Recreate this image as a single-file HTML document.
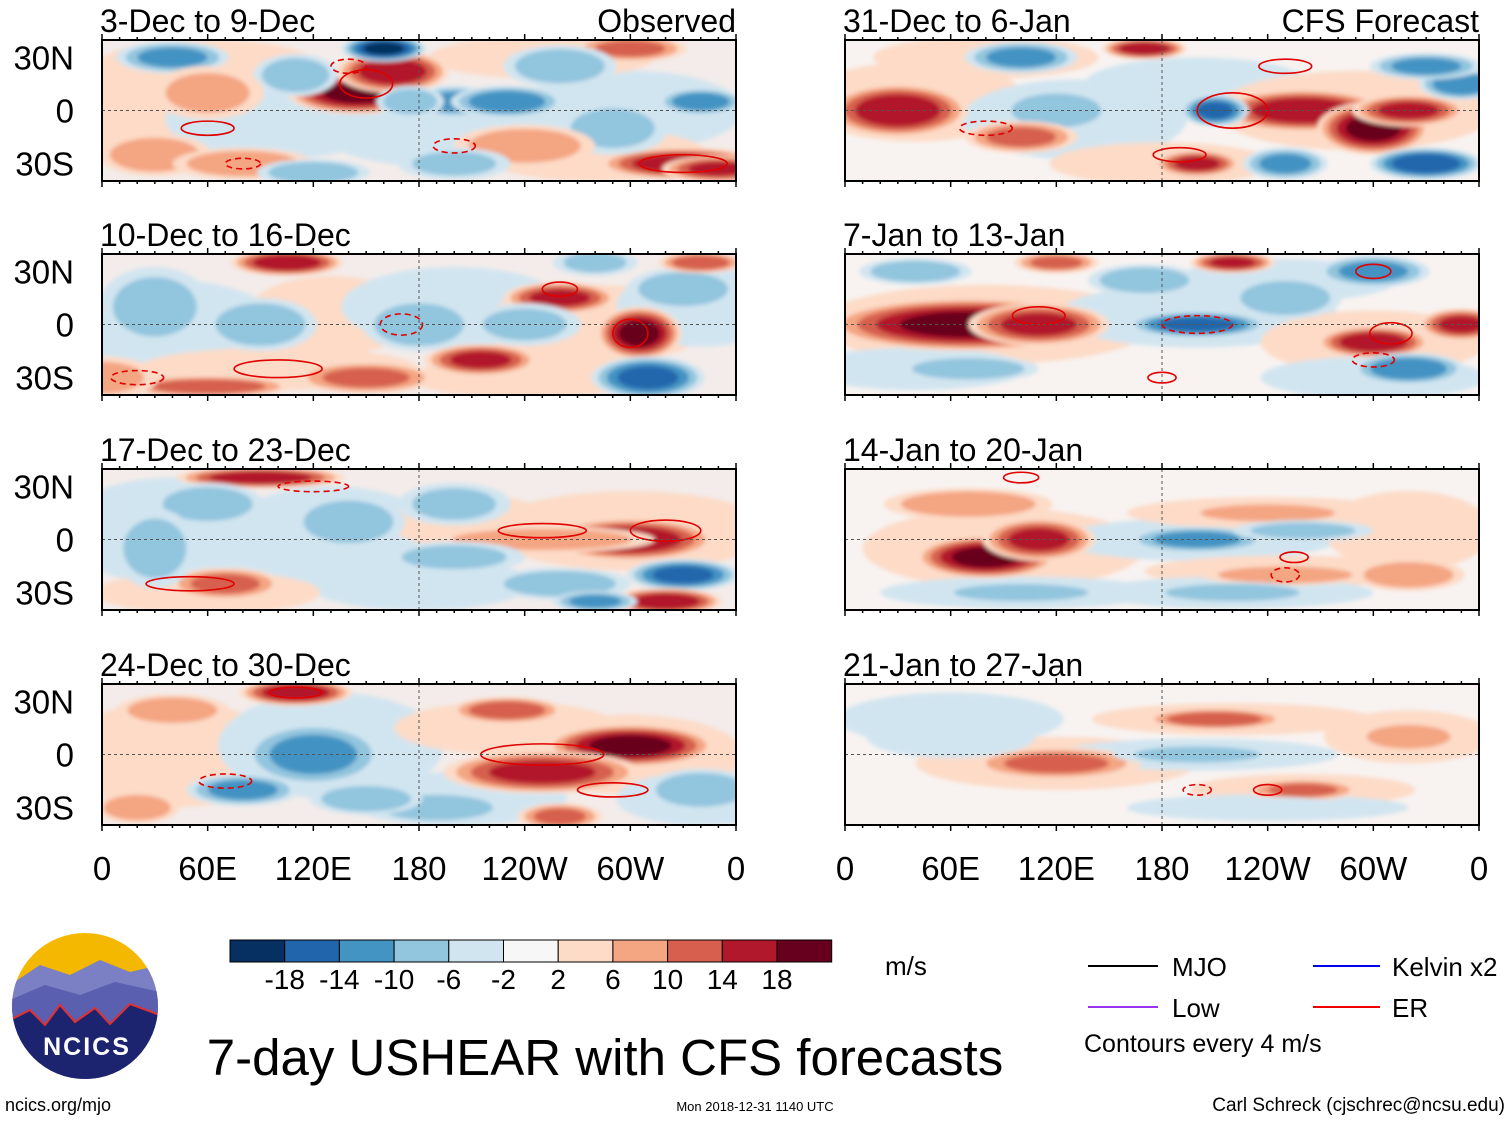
<!DOCTYPE html>
<html><head><meta charset="utf-8"><style>
html,body{margin:0;padding:0;background:#fff}
svg{display:block}
text{font-family:"Liberation Sans",Arial,sans-serif}
</style></head><body>
<svg id="chart" width="1510" height="1121" viewBox="0 0 1510 1121" xmlns="http://www.w3.org/2000/svg">
<defs><filter id="soft"><feGaussianBlur stdDeviation="2"/></filter></defs>
<g id="panels"></g>
<g id="colorbar"></g>
<g>
<clipPath id="lc"><circle cx="85" cy="1006" r="73"/></clipPath>
<g clip-path="url(#lc)">
<rect x="10" y="930" width="150" height="150" fill="#f5b800"/>
<path d="M10 985 L40 965 L70 975 L100 960 L130 972 L160 965 L160 1080 L10 1080Z" fill="#7b7fc4"/>
<path d="M10 1000 L45 985 L80 995 L115 982 L160 992 L160 1080 L10 1080Z" fill="#5a5fb0"/>
<path d="M10 1020 L30 1010 L45 1025 L60 1005 L75 1022 L95 1008 L110 1024 L130 1004 L160 1015 L160 1080 L10 1080Z" fill="#1c2470" stroke="#e03030" stroke-width="2"/>
</g>
<text x="87" y="1055" font-size="25" font-weight="bold" fill="#fff" text-anchor="middle" letter-spacing="2">NCICS</text>
</g>
<text x="5" y="1111" font-size="18">ncics.org/mjo</text>
<text x="755" y="1111" font-size="13" text-anchor="middle">Mon 2018-12-31 1140 UTC</text>
<text x="1505" y="1111" font-size="19" text-anchor="end">Carl Schreck (cjschrec@ncsu.edu)</text>
<text x="605" y="1075" font-size="51" text-anchor="middle">7-day USHEAR with CFS forecasts</text>
<text x="885" y="975" font-size="26">m/s</text>
<g>
<line x1="1088" y1="966" x2="1158" y2="966" stroke="#000" stroke-width="2"/><text x="1172" y="976" font-size="26">MJO</text>
<line x1="1313" y1="966" x2="1380" y2="966" stroke="#0000ee" stroke-width="2"/><text x="1392" y="976" font-size="26">Kelvin x2</text>
<line x1="1088" y1="1007" x2="1158" y2="1007" stroke="#9933ee" stroke-width="2"/><text x="1172" y="1017" font-size="26">Low</text>
<line x1="1313" y1="1007" x2="1380" y2="1007" stroke="#ee0000" stroke-width="2"/><text x="1392" y="1017" font-size="26">ER</text>
<text x="1084" y="1052" font-size="25">Contours every 4 m/s</text>
</g>
</svg>
<script>
const colors=['#053061','#2166ac','#4393c3','#92c5de','#d1e5f0','#f7f7f7','#fddbc7','#f4a582','#d6604d','#b2182b','#67001f'];
const cbLabels=['-18','-14','-10','-6','-2','2','6','10','14','18'];
const lonTicks=['0','60E','120E','180','120W','60W','0'];
const latTicks=['30N','0','30S'];
const latValues=[30,0,-30];
const panelTitles=['3-Dec to 9-Dec','10-Dec to 16-Dec','17-Dec to 23-Dec','24-Dec to 30-Dec','31-Dec to 6-Jan','7-Jan to 13-Jan','14-Jan to 20-Jan','21-Jan to 27-Jan'];
// anomaly centres: [lon E, lat, value m/s, lon radius, lat radius]
const blobs1=[[20,0,4,40,20],[100,-5,-4,40,15],[200,-10,-4,50,15],[300,0,-4,40,15],[60,25,4,40,10],[250,30,4,40,8],[280,-25,4,40,10],
[145,10,18,25,8],[165,22,16,20,8],[160,35,-18,15,5],[200,5,-10,15,6],[175,5,-8,12,6],[230,5,-12,20,6],[330,-30,16,30,6],[350,-33,14,20,5],[290,-10,-6,20,10],[340,5,-12,15,5],[40,30,-10,20,6],[30,-25,8,20,8],[80,-30,8,25,6],[240,-20,8,25,8],[110,20,-8,15,8],[60,10,6,20,10],[300,35,10,20,5],[260,25,-8,20,8],[120,-35,-8,20,5],[200,-30,-6,20,6]];
const blobs2=[[40,-5,-4,40,20],[130,5,4,30,15],[200,10,-4,40,15],[280,0,4,40,15],[340,10,-4,30,15],[100,-25,4,50,8],[240,-30,4,40,8],
[105,35,16,20,5],[260,15,14,20,6],[305,-5,18,15,10],[215,-20,14,20,6],[310,-30,-14,20,8],[180,0,-8,20,10],[90,0,-8,20,10],[30,10,-6,20,15],[240,0,-6,20,8],[150,-30,10,25,6],[60,-35,12,30,4],[330,20,-8,20,8],[340,35,12,15,4],[280,35,-6,15,5],[0,-30,6,20,8]];
const blobs3=[[40,5,-4,40,20],[130,0,-4,40,20],[210,10,4,30,10],[300,5,4,50,15],[180,-25,-4,40,10],[60,-30,4,40,8],
[300,0,16,30,8],[250,0,8,40,5],[330,-20,-14,20,6],[320,-35,16,20,5],[70,-25,10,20,6],[90,35,16,30,4],[60,20,-8,20,8],[140,10,-8,20,10],[200,-10,-6,25,6],[260,-25,-8,25,6],[30,-5,-6,15,15],[200,20,-6,20,8],[280,-35,-10,15,4]];
const blobs4=[[40,0,4,40,20],[130,5,-4,40,20],[230,15,4,40,10],[300,0,4,40,15],[200,-25,-4,40,10],[340,-25,-4,30,10],
[300,5,18,30,8],[250,-10,14,35,8],[110,35,16,20,5],[120,0,-10,25,12],[80,-20,-10,20,6],[230,25,12,20,5],[40,25,8,20,6],[190,-30,-8,25,6],[340,-20,-8,20,8],[150,-25,-8,20,6],[260,-35,10,15,5],[20,-30,8,15,6]];
const blobs5=[[40,5,4,40,15],[130,-5,-4,40,15],[200,15,-4,40,10],[290,0,4,50,15],[80,30,4,40,8],[180,-30,4,40,8],
[30,0,16,25,10],[260,0,16,30,8],[300,-10,18,20,10],[320,0,14,20,6],[200,-30,14,15,5],[330,-30,-16,20,6],[210,0,-14,12,6],[250,-30,-10,15,6],[100,30,-10,20,6],[170,35,16,15,4],[120,0,-8,20,8],[350,15,-12,15,6],[330,25,-10,20,5],[100,-15,10,20,6]];
const blobs6=[[80,0,4,60,15],[200,5,-4,50,12],[300,-10,4,40,12],[40,-25,-4,40,8],[250,25,-4,40,8],[300,-30,-4,40,8],
[70,0,18,50,10],[110,0,14,25,8],[200,0,-14,25,5],[300,-10,16,20,6],[300,30,-10,20,6],[250,15,-8,20,8],[350,0,14,15,6],[70,-25,-8,25,5],[320,-25,-12,20,6],[120,35,10,15,4],[220,35,14,15,4],[40,30,-8,20,5],[170,25,-8,20,6]];
const blobs7=[[90,-5,4,50,15],[200,0,-4,50,8],[240,15,4,50,6],[250,-18,4,50,6],[100,-30,-4,50,6],[220,-30,-4,50,6],[320,5,4,30,15],
[80,-10,18,25,8],[110,0,14,20,8],[200,0,-10,25,5],[70,20,8,30,6],[240,15,8,30,4],[250,-20,8,30,4],[100,-30,-8,30,4],[220,-30,-8,30,4],[320,-20,8,20,6],[260,5,-6,25,4]];
const blobs8=[[120,-5,4,50,10],[220,20,4,50,6],[200,0,-4,50,6],[260,-20,4,40,6],[60,20,-4,40,10],[320,10,4,30,10],[240,-30,-4,50,5],
[120,-5,10,30,6],[210,20,12,25,4],[260,-20,10,20,4],[200,0,-6,30,4],[60,10,-4,30,8],[240,-30,-4,30,4],[320,10,6,20,6]];
// ER contours: [lon, lat, lon radius, lat radius, dashed(1)/solid(0)]
const er1=[[150,15,15,8,0],[60,-10,15,4,0],[330,-30,25,5,0],[200,-20,12,4,1],[80,-30,10,3,1],[140,25,10,4,1]];
const er2=[[100,-25,25,5,0],[170,0,12,6,1],[260,20,10,4,0],[300,-5,10,8,0],[20,-30,15,4,1]];
const er3=[[50,-25,25,4,0],[250,5,25,4,0],[320,5,20,6,0],[120,30,20,3,1]];
const er4=[[250,0,35,6,0],[290,-20,20,4,0],[110,35,15,3,0],[70,-15,15,4,1]];
const er5=[[220,0,20,10,0],[190,-25,15,4,0],[80,-10,15,4,1],[250,25,15,4,0]];
const er6=[[310,-5,12,6,0],[200,0,20,5,1],[110,5,15,5,0],[300,-20,12,4,1],[180,-30,8,3,0],[300,30,10,4,0]];
const er7=[[100,35,10,3,0],[255,-10,8,3,0],[250,-20,8,4,1]];
const er8=[[240,-20,8,3,0],[200,-20,8,3,1]];
const allBlobs=[blobs1,blobs2,blobs3,blobs4,blobs5,blobs6,blobs7,blobs8];
const allEr=[er1,er2,er3,er4,er5,er6,er7,er8];

const NS='http://www.w3.org/2000/svg';
function mk(tag,attrs,parent){const e=document.createElementNS(NS,tag);for(const k in attrs)e.setAttribute(k,attrs[k]);parent.appendChild(e);return e;}
const W=634,H=141,tops=[40,254,469,684],lefts=[102,845];
function colIdx(v){return Math.max(0,Math.min(10,Math.round((v+20)/4)));}
const root=document.getElementById('panels');
for(let p=0;p<8;p++){
  const x0=lefts[Math.floor(p/4)],y0=tops[p%4];
  const xs=lon=>x0+lon/360*W, ys=lat=>y0+H/2-lat*1.77;
  const g=mk('g',{},root);
  
  
  const cid='clip'+p;
  const cp=mk('clipPath',{id:cid},g);mk('rect',{x:x0,y:y0,width:W,height:H},cp);
  const body=mk('g',{'clip-path':'url(#'+cid+')'},g);
  mk('rect',{x:x0,y:y0,width:W,height:H,fill:p<4?'#f3ecea':'#f8f3f1'},body);
  const fg=mk('g',{filter:'url(#soft)'},body);
  allBlobs[p].forEach(b=>{
    const [lon,lat,v,rx,ry]=b;const s=Math.sign(v),m=Math.abs(v);
    for(let lv=2;lv<=m;lv+=4){
      const f=Math.sqrt(1-(lv-2)/(m+3));
      const e=mk('ellipse',{cx:xs(lon),cy:ys(lat),rx:rx*1.76*1.6*f,ry:ry*1.77*1.5*f,fill:colors[colIdx(s*(lv+2))]},fg);
      
      
    }
  });
  allEr[p].forEach(c=>{
    const e=mk('ellipse',{cx:xs(c[0]),cy:ys(c[1]),rx:c[2]*1.76,ry:c[3]*1.77,fill:'none',stroke:'#e00000','stroke-width':1.6,'stroke-dasharray':c[4]?'6 4':'none'},body);
    
    
  });
  mk('line',{x1:x0,y1:ys(0),x2:x0+W,y2:ys(0),stroke:'#555','stroke-dasharray':'3 3'},body);
  mk('line',{x1:xs(180),y1:y0,x2:xs(180),y2:y0+H,stroke:'#555','stroke-dasharray':'3 3'},body);
  mk('rect',{x:x0,y:y0,width:W,height:H,fill:'none',stroke:'#000','stroke-width':2},g);
  for(let l=0;l<=360;l+=10){const big=l%60===0;
    mk('line',{x1:xs(l),y1:y0,x2:xs(l),y2:y0-(big?6:3),stroke:'#000','stroke-width':1.5},g);
    mk('line',{x1:xs(l),y1:y0+H,x2:xs(l),y2:y0+H+(big?6:3),stroke:'#000','stroke-width':1.5},g);}
  const t=mk('text',{x:x0-2,y:y0-8,'font-size':32},g);t.textContent=panelTitles[p];
  
  
  if(p===0||p===4){const r=mk('text',{x:x0+W,y:y0-8,'font-size':32,'text-anchor':'end'},g);r.textContent=p===0?'Observed':'CFS Forecast';
    
    }
  if(p<4){latTicks.forEach((s,i)=>{const tt=mk('text',{x:74,y:ys(latValues[i])+12,'font-size':33,'text-anchor':'end'},g);tt.textContent=s;
    
    });}
  if(p%4===3){lonTicks.forEach((s,i)=>{const tt=mk('text',{x:xs(i*60),y:880,'font-size':33,'text-anchor':'middle'},g);tt.textContent=s;
    
    });}
}
const cb=document.getElementById('colorbar');
colors.forEach((c,i)=>{const r=mk('rect',{x:230+i*54.7,y:940,width:54.7,height:22,fill:c,stroke:'#000','stroke-width':1},cb);
  
  });
cbLabels.forEach((s,i)=>{const t=mk('text',{x:230+(i+1)*54.7,y:989,'font-size':28,'text-anchor':'middle'},cb);t.textContent=s;
  
  });
</script>
</body></html>
